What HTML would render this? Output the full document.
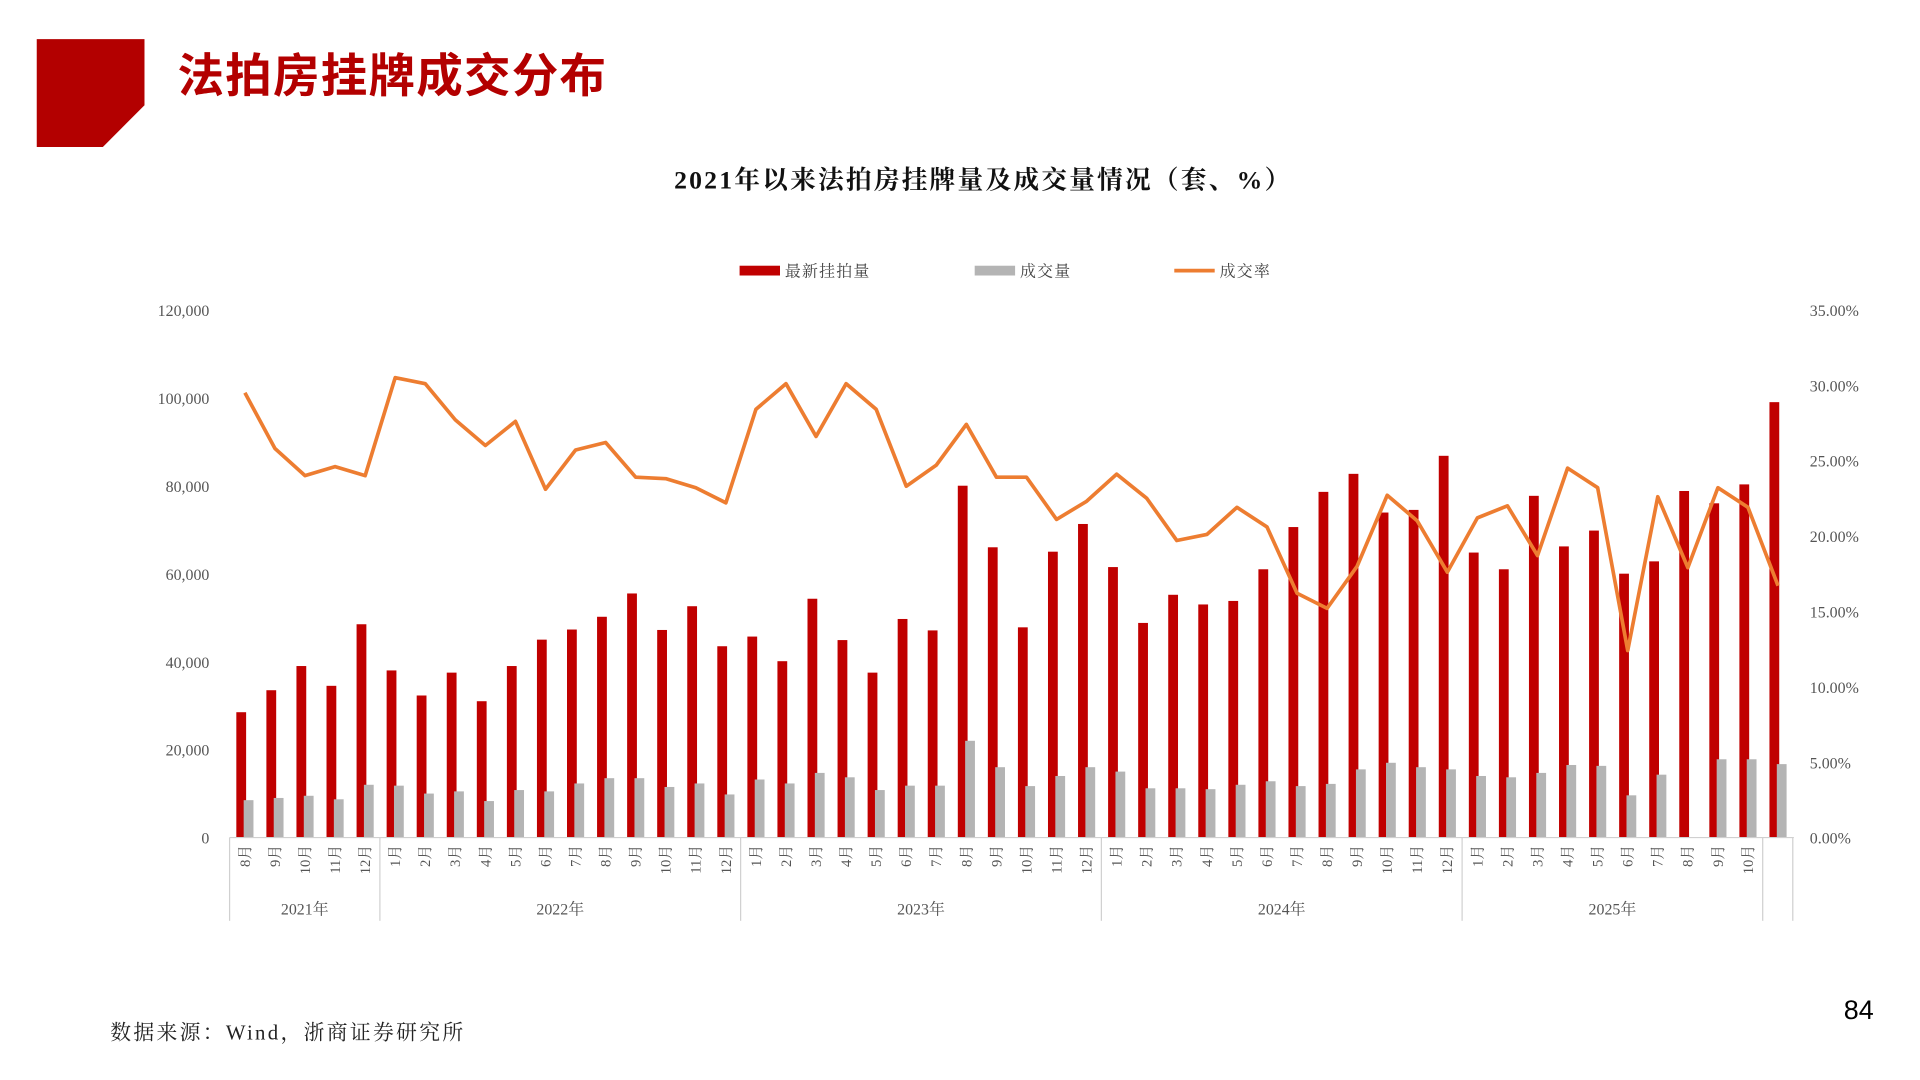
<!DOCTYPE html>
<html><head><meta charset="utf-8"><style>
html,body{margin:0;padding:0;background:#fff;}
svg{display:block;}
text{font-family:"Liberation Serif","Noto Serif CJK SC",serif;}
</style></head><body>
<svg id="chart" width="1920" height="1080" viewBox="0 0 1568 882" xmlns="http://www.w3.org/2000/svg">
<polygon points="30,32 118,32 118,86 84,120 30,120" fill="#b30000"/>
<text x="145" y="75" font-size="38" font-weight="bold" letter-spacing="1" fill="#b30000" style="font-family:'Liberation Sans','Noto Sans CJK SC',sans-serif">法拍房挂牌成交分布</text>
<text x="803" y="154" font-size="21" font-weight="bold" letter-spacing="1.8" text-anchor="middle" fill="#111">2021年以来法拍房挂牌量及成交量情况（套、%）</text>
<g font-size="13" fill="#444" letter-spacing="1">
<rect x="604" y="217" width="33" height="8" fill="#c00000"/><text x="641" y="226">最新挂拍量</text>
<rect x="796" y="217" width="33" height="8" fill="#b4b4b4"/><text x="833" y="226">成交量</text>
<line x1="959" y1="221" x2="992" y2="221" stroke="#ed7d31" stroke-width="3"/><text x="996" y="226">成交率</text>
</g>
<g id="plot"></g>
<text x="1518" y="832" font-size="22" text-anchor="middle" style="font-family:'Liberation Sans',sans-serif">84</text>
<text x="90" y="849" font-size="17" letter-spacing="1.9" fill="#222">数据来源：Wind，浙商证券研究所</text>
</svg>
<script>
const months=["8月","9月","10月","11月","12月","1月","2月","3月","4月","5月","6月","7月","8月","9月","10月","11月","12月","1月","2月","3月","4月","5月","6月","7月","8月","9月","10月","11月","12月","1月","2月","3月","4月","5月","6月","7月","8月","9月","10月","11月","12月","1月","2月","3月","4月","5月","6月","7月","8月","9月","10月",""];
const years=[["2021年",0,5],["2022年",5,17],["2023年",17,29],["2024年",29,41],["2025年",41,51]];
const listings=[28500,33500,39000,34500,48500,38000,32300,37500,31000,39000,45000,47300,50200,55500,47200,52600,43500,45700,40100,54300,44900,37500,49700,47100,80000,66000,47800,65000,71300,61500,48800,55200,53000,53800,61000,70600,78600,82700,73900,74500,86800,64800,61000,77700,66200,69800,60000,62800,78800,76000,80300,99000];
const deals=[8500,9000,9500,8700,12000,11800,10000,10500,8300,10800,10500,12300,13500,13500,11500,12300,9800,13200,12300,14700,13700,10800,11800,11800,22000,16000,11700,14000,16000,15000,11200,11200,11000,12000,12800,11700,12200,15500,17000,16000,15500,14000,13700,14700,16500,16300,9600,14300,0,17800,17800,16700];
const rate=[29.5,25.8,24.0,24.6,24.0,30.5,30.1,27.7,26.0,27.6,23.1,25.7,26.2,23.9,23.8,23.2,22.2,28.4,30.1,26.6,30.1,28.4,23.3,24.7,27.4,23.9,23.9,21.1,22.3,24.1,22.5,19.7,20.1,21.9,20.6,16.2,15.2,18.0,22.7,21.0,17.6,21.2,22.0,18.7,24.5,23.2,12.4,22.6,17.9,23.2,21.9,16.7];
const leftTicks=[0,20000,40000,60000,80000,100000,120000];
const rightTicks=[0,5,10,15,20,25,30,35];
const NS="http://www.w3.org/2000/svg",g=document.getElementById('plot');
const y0=684,yTop=253,x0=187.5,step=24.55;
const yL=v=>y0-(v/120000)*(y0-yTop), yR=v=>y0-(v/35)*(y0-yTop), xc=i=>x0+12.5+i*step;
function mk(t,a,p){const e=document.createElementNS(NS,t);for(const k in a)e.setAttribute(k,a[k]);(p||g).appendChild(e);return e;}
leftTicks.forEach(v=>{const t=mk('text',{x:171,y:yL(v)+5,'font-size':13,'text-anchor':'end',fill:'#555'});t.textContent=v.toLocaleString('en-US');

});
rightTicks.forEach(v=>{const t=mk('text',{x:1478,y:yR(v)+5,'font-size':13,fill:'#555'});t.textContent=v.toFixed(2)+'%';

});
listings.forEach((v,i)=>{const c=xc(i);const r=mk('rect',{x:c-7,y:yL(v),width:8,height:y0-yL(v),fill:'#c00000'});

});
deals.forEach((v,i)=>{const c=xc(i);const r=mk('rect',{x:c-1,y:yL(v),width:8,height:y0-yL(v),fill:'#b4b4b4'});

});
const ax=mk('line',{x1:x0,y1:y0,x2:1465,y2:y0,stroke:'#d0d0d0'});


const pl=mk('polyline',{points:rate.map((v,i)=>xc(i)+','+yR(v)).join(' '),fill:'none',stroke:'#ed7d31','stroke-width':3,'stroke-linejoin':'round'});


months.forEach((m,i)=>{if(!m)return;const c=xc(i);const t=mk('text',{x:0,y:0,'font-size':12,fill:'#555','text-anchor':'end',transform:`translate(${c+4},690) rotate(-90)`});t.textContent=m;

});
const seps=[0,5,17,29,41,51,52];
seps.forEach(s=>{const x=x0+s*step;const l=mk('line',{x1:x,y1:y0,x2:x,y2:752,stroke:'#d0d0d0'});

});
years.forEach(([n,a,b])=>{const t=mk('text',{x:x0+(a+b)/2*step,y:747,'font-size':13,'text-anchor':'middle',fill:'#555'});t.textContent=n;

});
</script>
</body></html>
